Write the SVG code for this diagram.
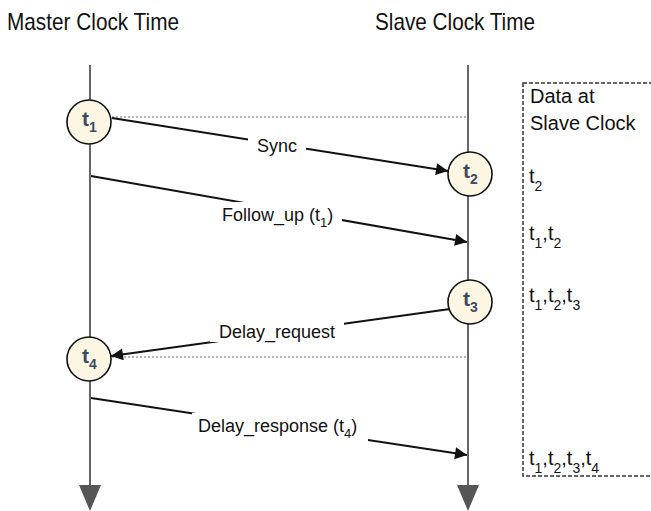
<svg xmlns="http://www.w3.org/2000/svg" width="651" height="511" viewBox="0 0 651 511">
  <style>
    text { font-family: "Liberation Sans", Arial, sans-serif; fill: #111; }
    .hdr { font-size: 24px; }
    .lbl { font-size: 18px; }
    .data { font-size: 20px; }
    .sub { font-size: 14px; }
    .lsub { font-size: 13px; }
    .timeline { stroke: #666; stroke-width: 2; fill: none; }
    .tip { fill: #555; }
    .ref { stroke: #9a9a9a; stroke-width: 1.5; stroke-dasharray: 2 2; fill: none; }
    .msg { stroke: #111; stroke-width: 2; fill: none; marker-end: url(#head); }
    .evt circle { fill: #fdf6e3; stroke: #111; stroke-width: 1.6; }
    .evt text { font-size: 21px; font-weight: bold; fill: #3b4b66; }
    .evt .esub { font-size: 14px; }
    .mask { fill: #fff; }
    .box { fill: none; stroke: #333; stroke-width: 1.5; stroke-dasharray: 4 2; }
  </style>
  <defs>
    <marker id="head" viewBox="0 0 10 10" refX="10" refY="5" markerWidth="17" markerHeight="12" markerUnits="userSpaceOnUse" orient="auto">
      <path d="M0,0 L10,5 L0,10 z" fill="#111"/>
    </marker>
  </defs>

  <!-- column headings -->
  <text class="hdr" x="7" y="30" textLength="172" lengthAdjust="spacingAndGlyphs">Master Clock Time</text>
  <text class="hdr" x="375" y="30" textLength="160" lengthAdjust="spacingAndGlyphs">Slave Clock Time</text>

  <!-- time axes -->
  <g id="master-axis">
    <line class="timeline" x1="90" y1="65" x2="90" y2="487"/>
    <polygon class="tip" points="79,485 101,485 90,511"/>
  </g>
  <g id="slave-axis">
    <line class="timeline" x1="468" y1="65" x2="468" y2="487"/>
    <polygon class="tip" points="457,485 479,485 468,511"/>
  </g>

  <!-- connectors -->
  <g id="connectors">
    <line class="ref" x1="112" y1="117" x2="467" y2="117"/>
    <line class="ref" x1="112" y1="357" x2="467" y2="357"/>
    <line class="msg" x1="112" y1="118" x2="448" y2="171"/>
    <line class="msg" x1="91" y1="176" x2="467" y2="242"/>
    <line class="msg" x1="450" y1="309" x2="111" y2="356"/>
    <line class="msg" x1="91" y1="398" x2="467" y2="455"/>
  </g>

  <!-- message labels -->
  <g id="label-sync">
    <rect class="mask" x="248" y="134" width="58" height="22"/>
    <text class="lbl" x="277" y="152" text-anchor="middle">Sync</text>
  </g>
  <g id="label-follow-up">
    <rect class="mask" x="216" y="202" width="126" height="28"/>
    <text class="lbl" x="222" y="221">Follow_up (t<tspan class="lsub" dy="6">1</tspan><tspan dy="-6">)</tspan></text>
  </g>
  <g id="label-delay-request">
    <rect class="mask" x="210" y="320" width="134" height="22"/>
    <text class="lbl" x="277" y="338" text-anchor="middle">Delay_request</text>
  </g>
  <g id="label-delay-response">
    <rect class="mask" x="192" y="413" width="176" height="28"/>
    <text class="lbl" x="198" y="432">Delay_response (t<tspan class="lsub" dy="6">4</tspan><tspan dy="-6">)</tspan></text>
  </g>

  <!-- timestamp events -->
  <g id="t1" class="evt">
    <circle cx="89" cy="122" r="22"/>
    <text x="82" y="126">t<tspan class="esub" dy="6">1</tspan></text>
  </g>
  <g id="t2" class="evt">
    <circle cx="470" cy="174" r="22"/>
    <text x="463" y="178">t<tspan class="esub" dy="6">2</tspan></text>
  </g>
  <g id="t3" class="evt">
    <circle cx="470" cy="302" r="22"/>
    <text x="463" y="306">t<tspan class="esub" dy="6">3</tspan></text>
  </g>
  <g id="t4" class="evt">
    <circle cx="89" cy="359" r="22"/>
    <text x="82" y="363">t<tspan class="esub" dy="6">4</tspan></text>
  </g>

  <!-- data held at the slave -->
  <g id="slave-data">
    <rect class="box" x="523" y="83" width="140" height="393"/>
    <text class="data" x="530" y="103">Data at</text>
    <text class="data" x="530" y="130">Slave Clock</text>
    <text class="data" x="529" y="183">t<tspan class="sub" dy="8">2</tspan></text>
    <text class="data" x="529" y="240">t<tspan class="sub" dy="8">1</tspan><tspan dy="-8">,t</tspan><tspan class="sub" dy="8">2</tspan></text>
    <text class="data" x="529" y="302">t<tspan class="sub" dy="8">1</tspan><tspan dy="-8">,t</tspan><tspan class="sub" dy="8">2</tspan><tspan dy="-8">,t</tspan><tspan class="sub" dy="8">3</tspan></text>
    <text class="data" x="529" y="465">t<tspan class="sub" dy="8">1</tspan><tspan dy="-8">,t</tspan><tspan class="sub" dy="8">2</tspan><tspan dy="-8">,t</tspan><tspan class="sub" dy="8">3</tspan><tspan dy="-8">,t</tspan><tspan class="sub" dy="8">4</tspan></text>
  </g>
</svg>
